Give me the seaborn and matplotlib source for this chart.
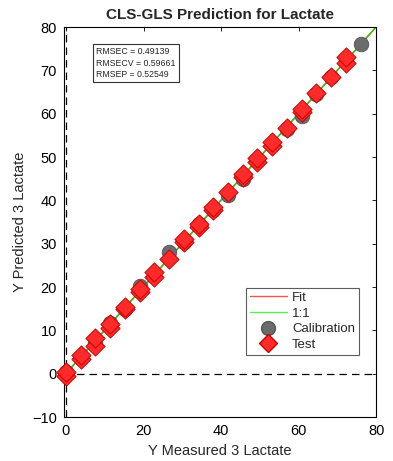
import matplotlib
matplotlib.use("Agg")
import matplotlib.pyplot as plt
import seaborn as sns
import pandas as pd
from matplotlib.lines import Line2D

sns.set_style("white")
plt.rcParams['font.family'] = ['Liberation Sans', 'DejaVu Sans']

title = "CLS-GLS Prediction for Lactate"
xlabel = "Y Measured 3 Lactate"
ylabel = "Y Predicted 3 Lactate"
stats_text = ["RMSEC = 0.49139", "RMSECV = 0.59661", "RMSEP = 0.52549"]

cal_x = [0.0, 0.0, 3.8, 7.6, 11.4, 15.2, 19.0, 22.8, 26.6, 30.4, 34.2, 38.0, 41.8,
         45.6, 49.4, 53.2, 57.0, 60.8, 64.6, 68.4, 72.2, 76.0]
cal_y = [0.5, 0.0, 3.6, 7.0, 11.6, 15.0, 20.3, 23.0, 28.0, 30.5, 34.5, 37.8, 41.3,
         45.0, 49.0, 53.0, 56.5, 59.5, 64.5, 68.5, 72.5, 76.0]

test_x = [0.0, 0.0, 3.8, 3.8, 7.6, 7.6, 11.4, 11.4, 15.2, 15.2, 19.0, 19.0, 22.8, 22.8,
          26.6, 30.4, 30.4, 34.2, 34.2, 38.0, 38.0, 41.8, 45.6, 45.6, 49.4, 49.4,
          53.2, 53.2, 57.0, 60.8, 60.8, 64.6, 68.4, 72.2, 72.2]
test_y = [-0.5, 0.3, 3.5, 4.2, 6.5, 8.2, 10.5, 11.5, 15.0, 15.5, 18.8, 19.5, 22.3, 23.5,
          26.5, 30.5, 31.0, 33.8, 34.5, 37.8, 38.5, 42.0, 45.5, 46.0, 48.8, 49.8,
          52.5, 53.5, 56.8, 60.5, 61.0, 64.8, 68.5, 71.8, 73.0]

fit_x = [0.0, 80.0]
fit_y = [0.1, 80.0]
one_x = [0.0, 80.0]
one_y = [0.0, 80.0]

xticks = [0, 20, 40, 60, 80]
yticks = [-10, 0, 10, 20, 30, 40, 50, 60, 70, 80]

fig = plt.figure(figsize=(3.93, 4.61), dpi=100)
ax = fig.add_axes([0.163, 0.0954, 0.794, 0.846])

ax.axhline(0, color='black', linestyle=(0, (6, 4)), linewidth=0.9, zorder=1)
ax.axvline(0, color='black', linestyle=(0, (6, 4)), linewidth=0.9, zorder=1)

sns.lineplot(x=fit_x, y=fit_y, ax=ax, color='#ff4040', linewidth=1.0, zorder=2)
sns.lineplot(x=one_x, y=one_y, ax=ax, color='#22cc00', linewidth=1.0, zorder=2)

sns.scatterplot(x=cal_x, y=cal_y, ax=ax, marker='o', s=110, color='#6b6b6b',
                edgecolor='#555555', linewidth=0.6, zorder=3, clip_on=False)
sns.scatterplot(x=test_x, y=test_y, ax=ax, marker='D', s=95, color='#ff2a2a',
                edgecolor='#cc0000', linewidth=0.7, zorder=4, clip_on=False)

ax.set_xlim(-0.5, 80)
ax.set_ylim(-10, 80)
ax.set_xticks(xticks)
ax.set_yticks(yticks)
ax.tick_params(direction='in', length=3, width=0.6, top=True, right=True,
               labelsize=10.5, pad=5, colors='black')
for s in ax.spines.values():
    s.set_visible(True)
    s.set_color('black')
    s.set_linewidth(0.8)

ax.set_title(title, fontsize=11, fontweight='bold', pad=6)
ax.set_xlabel(xlabel, fontsize=10.5, labelpad=4)
ax.set_ylabel(ylabel, fontsize=10.5, labelpad=4)

ax.text(0.103, 0.948, "\n".join(stats_text), transform=ax.transAxes, fontsize=6.3,
        va='top', ha='left', linespacing=1.35,
        bbox=dict(boxstyle='square,pad=0.35', facecolor='white', edgecolor='#333333', linewidth=0.8))

handles = [
    Line2D([0], [0], color='#ff5050', linewidth=1.0),
    Line2D([0], [0], color='#55ee55', linewidth=1.0),
    Line2D([0], [0], marker='o', linestyle='none', markersize=10, markerfacecolor='#6b6b6b', markeredgecolor='#555555'),
    Line2D([0], [0], marker='D', linestyle='none', markersize=9, markerfacecolor='#ff2a2a', markeredgecolor='#cc0000'),
]
leg = ax.legend(handles, ["Fit", "1:1", "Calibration", "Test"], loc='lower right',
                bbox_to_anchor=(0.945, 0.16), fontsize=9.5, frameon=True, fancybox=False,
                borderpad=0.3, handlelength=2.8, handletextpad=0.4, labelspacing=0.25,
                borderaxespad=0)
leg.get_frame().set_edgecolor('#333333')
leg.get_frame().set_linewidth(0.8)

fig.savefig("out.png", dpi=100)
